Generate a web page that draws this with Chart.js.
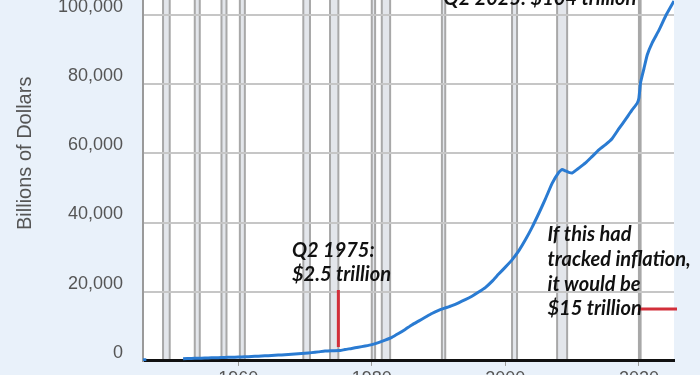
<!DOCTYPE html>
<html>
<head>
<meta charset="utf-8">
<script src="https://cdn.jsdelivr.net/npm/chart.js@4.4.1/dist/chart.umd.min.js"></script>
<style>
  html, body { margin: 0; padding: 0; width: 700px; height: 375px; overflow: hidden; background: #e9f1fa; }
  #wrap { position: absolute; left: 0; top: -75px; width: 700px; height: 480px; }
</style>
</head>
<body>
<div id="wrap"><canvas id="c" width="700" height="480"></canvas></div>
<script>
// ---- Data (billions of dollars) ----
const years = [1945.75, 1946.0, 1946.25, 1946.5,
  1951.75, 1953, 1954, 1955, 1956, 1957, 1958, 1959, 1960, 1961, 1962, 1963, 1964,
  1965, 1966, 1967, 1968, 1969, 1970, 1971, 1972, 1973, 1974, 1975.25, 1976, 1977,
  1978, 1979, 1980, 1981, 1982, 1983, 1984, 1985, 1986, 1987, 1988, 1989, 1990,
  1991, 1992, 1993, 1994, 1995, 1996, 1997, 1998, 1999, 2000, 2001, 2002, 2003,
  2004, 2005, 2006, 2007, 2008, 2008.5, 2009, 2009.5, 2010, 2010.5, 2011, 2012,
  2013, 2014, 2015, 2016, 2017, 2018, 2019, 2019.75, 2020.0, 2020.25, 2020.75,
  2021.25, 2022, 2023, 2024, 2025.25];
const debt = [330, 340, 350, null,
  640, 720, 770, 830, 880, 930, 990, 1060, 1120, 1190, 1270, 1360, 1460,
  1560, 1670, 1780, 1920, 2070, 2210, 2390, 2610, 2850, 2950, 3000, 3300, 3600,
  3950, 4300, 4700, 5300, 6000, 6800, 7900, 9100, 10400, 11500, 12600, 13700, 14600,
  15300, 16000, 16800, 17700, 18700, 19900, 21200, 23000, 25100, 27100, 29200, 31800, 35000,
  38600, 42600, 46800, 51300, 54500, 55300, 54900, 54500, 54300, 55000, 55700, 57200,
  59100, 61000, 62500, 64300, 67100, 69800, 72600, 74500, 76000, 80500, 84500,
  88500, 92000, 95600, 99700, 104000];

// Recession periods [start, end] (decimal years)
const recessions = [
  [1948.75, 1949.75], [1953.5, 1954.25], [1957.5, 1958.25], [1960.25, 1961.0],
  [1969.75, 1970.75], [1973.75, 1975.0], [1980.0, 1980.5], [1981.5, 1982.75],
  [1990.5, 1991.0], [2001.0, 2001.75], [2007.75, 2009.25], [2020.0, 2020.25]
];

const xTicks = [1960, 1980, 2000, 2020];
const yTicks = [0, 20000, 40000, 60000, 80000, 100000, 120000];

// Annotations (positions in data units)
const noteTop = { text: ['Q2 2025: $104 trillion'], year: 2005.19, value: 102850 };
const note1975 = { text: ['Q2 1975:', '$2.5 trillion'], year: 1968.06, values: [31760, 24830] };
const noteInfl = { text: ['If this had', 'tracked inflation,', 'it would be', '$15 trillion'], year: 2006.31, values: [36530, 29300, 22080, 15000] };
const mark1975 = { year: 1975.0, from: 4020, to: 20490 };
const markInfl = { value: 15000, from: 2019.86, to: 2025.7 };

const points = years.map((y, i) => ({ x: y, y: debt[i] }));

const bgPlugin = {
  id: 'bg',
  beforeDraw(chart) {
    const { ctx, chartArea: a, scales: { x } } = chart;
    ctx.save();
    ctx.fillStyle = '#e9f1fa';
    ctx.fillRect(0, 0, chart.width, chart.height);
    ctx.fillStyle = '#ffffff';
    ctx.fillRect(a.left, a.top, a.right - a.left, a.bottom - a.top);
    recessions.forEach(([s, e]) => {
      const x1 = x.getPixelForValue(s), x2 = x.getPixelForValue(e);
      ctx.fillStyle = '#e3e6eb';
      ctx.fillRect(x1, a.top, x2 - x1, a.bottom - a.top);
      ctx.strokeStyle = '#a8a8a8';
      ctx.lineWidth = 2;
      ctx.beginPath();
      ctx.moveTo(x1, a.top); ctx.lineTo(x1, a.bottom);
      ctx.moveTo(x2, a.top); ctx.lineTo(x2, a.bottom);
      ctx.stroke();
    });
    ctx.restore();
  }
};

const notePlugin = {
  id: 'notes',
  afterDatasetsDraw(chart) {
    const { ctx, scales: { x, y } } = chart;
    ctx.save();
    ctx.strokeStyle = '#d22f3a';
    ctx.lineWidth = 3;
    ctx.beginPath();
    ctx.moveTo(x.getPixelForValue(mark1975.year), y.getPixelForValue(mark1975.from));
    ctx.lineTo(x.getPixelForValue(mark1975.year), y.getPixelForValue(mark1975.to));
    ctx.moveTo(x.getPixelForValue(markInfl.from), y.getPixelForValue(markInfl.value));
    ctx.lineTo(x.getPixelForValue(markInfl.to), y.getPixelForValue(markInfl.value));
    ctx.stroke();
    ctx.fillStyle = '#111111';
    ctx.font = 'italic bold 20px Lato';
    ctx.textAlign = 'center';
    ctx.textBaseline = 'alphabetic';
    ctx.fillText(noteTop.text[0], x.getPixelForValue(noteTop.year), y.getPixelForValue(noteTop.value));
    ctx.textAlign = 'left';
    ctx.textBaseline = 'middle';
    note1975.text.forEach((t, i) => ctx.fillText(t, x.getPixelForValue(note1975.year), y.getPixelForValue(note1975.values[i])));
    noteInfl.text.forEach((t, i) => ctx.fillText(t, x.getPixelForValue(noteInfl.year), y.getPixelForValue(noteInfl.values[i])));
    ctx.restore();
  }
};

new Chart(document.getElementById('c'), {
  type: 'line',
  data: {
    datasets: [{
      data: points,
      borderColor: '#2a7bd2',
      borderWidth: 3,
      pointRadius: 0,
      tension: 0.15,
      spanGaps: false,
      fill: false
    }]
  },
  options: {
    responsive: false,
    animation: false,
    layout: { padding: { top: 20.7, right: 26, bottom: 0, left: 0 } },
    plugins: { legend: { display: false }, tooltip: { enabled: false } },
    scales: {
      x: {
        type: 'linear',
        min: 1945.75,
        max: 2025.25,
        afterBuildTicks(s) { s.ticks = xTicks.map(v => ({ value: v })); },
        afterFit(s) { s.height = 44.1; s.paddingLeft = 0; s.paddingRight = 0; },
        grid: { drawOnChartArea: false, drawTicks: true, tickLength: 5, tickColor: '#999999', lineWidth: 1 },
        border: { color: '#111111', width: 3 },
        ticks: { color: '#555555', font: { family: 'Liberation Sans', size: 18 }, padding: 2, maxRotation: 0, callback: v => String(v) }
      },
      y: {
        min: 0,
        max: 120000,
        afterBuildTicks(s) { s.ticks = yTicks.map(v => ({ value: v })); },
        afterFit(s) { s.width = 143; s.paddingTop = 0; s.paddingBottom = 0; },
        grid: { color: '#c6c6c6', lineWidth: 2, drawTicks: false },
        border: { color: '#9a9a9a', width: 2 },
        ticks: {
          color: '#555555', font: { family: 'Liberation Sans', size: 18 }, padding: 20, labelOffset: -8,
          callback: v => v.toLocaleString('en-US')
        },
        title: { display: true, text: 'Billions of Dollars', color: '#555555', font: { family: 'Liberation Sans', size: 20 }, padding: { top: 13, bottom: 0 } }
      }
    }
  },
  plugins: [bgPlugin, notePlugin]
});
</script>
</body>
</html>
